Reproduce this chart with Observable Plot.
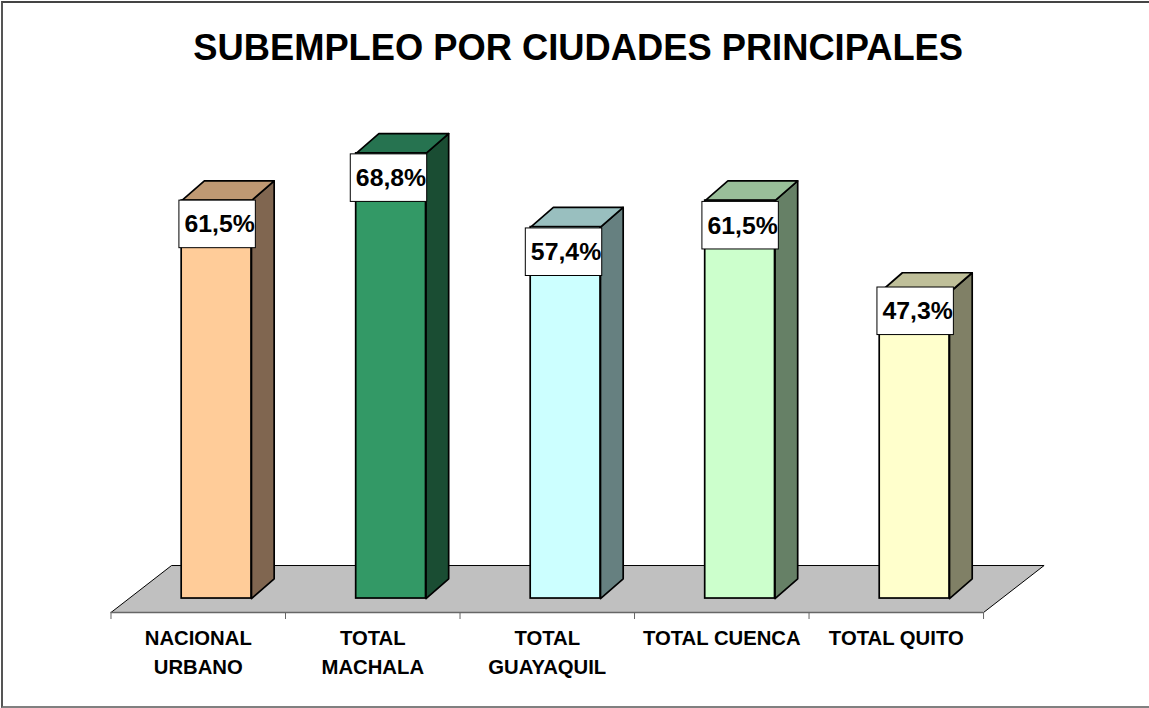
<!DOCTYPE html>
<html><head><meta charset="utf-8">
<script src="https://cdn.jsdelivr.net/npm/d3@7"></script>
<script src="https://cdn.jsdelivr.net/npm/@observablehq/plot@0.6"></script>
<style>
html,body{margin:0;padding:0;background:#fff;overflow:hidden}
#frame{position:relative;width:1149px;height:708px;box-sizing:border-box}
#frame::before{content:"";position:absolute;left:1px;top:1px;right:0;bottom:0;border-left:2px solid #555;border-top:2px solid #444;border-bottom:2px solid #808080}
svg{position:absolute;left:0;top:0;background:transparent!important}
</style></head><body><div id="frame"></div>
<script>
const categories = ["NACIONAL\nURBANO","TOTAL\nMACHALA","TOTAL\nGUAYAQUIL","TOTAL CUENCA","TOTAL QUITO"];
const values = [61.5,68.8,57.4,61.5,47.3];
const valueLabels = ["61,5%","68,8%","57,4%","61,5%","47,3%"];
const frontColors = ["#FFCC99","#339966","#CCFFFF","#CCFFCC","#FFFFCC"];
const sideColors = ["#806650","#1A4D33","#668080","#668066","#808066"];
const topColors = ["#BF9973","#267350","#99BFBF","#99BF99","#BFBF99"];
const title = "SUBEMPLEO POR CIUDADES PRINCIPALES";

// perspective geometry, in data units (x: category slots, y: percentage points)
const barStart = 0.405, barWidth = 0.4;
const depthX = 0.13, depthY = 3.05;
const floorFront = -2.16, floorBack = 5.1, floorShift = 0.347, slots = 5;
const boxWidth = 0.438, boxHeight = 7.35;
// hand placement of the value boxes relative to their bars
const boxNudgeX = [0.006,-0.012,-0.009,0.003,0.006];
const boxNudgeY = [0,-0.15,-0.2,-0.2,0.77];

const bars = values.map((v,i)=>({i,v,x1:i+barStart,x2:i+barStart+barWidth,label:valueLabels[i],front:frontColors[i],side:sideColors[i],top:topColors[i],cat:categories[i]}));
const sidePts = bars.flatMap(b=>[[b.x2,0],[b.x2+depthX,depthY],[b.x2+depthX,b.v+depthY],[b.x2,b.v]].map(([x,y])=>({x,y,id:b.i,fill:b.side})));
const topPts = bars.flatMap(b=>[[b.x1,b.v],[b.x1+depthX,b.v+depthY],[b.x2+depthX,b.v+depthY],[b.x2,b.v]].map(([x,y])=>({x,y,id:b.i,fill:b.top})));
const floorPts = [[0,floorFront],[slots,floorFront],[slots+floorShift,floorBack],[floorShift,floorBack]].map(([x,y])=>({x,y}));
const boxMid = b=>(b.x1+b.x2)/2+boxNudgeX[b.i];
const boxTop = b=>b.v+boxNudgeY[b.i];

const chart = Plot.plot({
  width:1149,height:708,marginLeft:0,marginRight:0,marginTop:0,marginBottom:96,
  style:{background:"transparent",fontFamily:"'Liberation Sans',Arial,sans-serif",overflow:"visible"},
  x:{domain:[-0.6332,5.951],axis:null},
  y:{domain:[floorFront,92.43],axis:null},
  color:{type:"identity"},
  marks:[
    Plot.line(floorPts,{x:"x",y:"y",fill:"#C0C0C0",stroke:"none",curve:"linear-closed"}),
    Plot.link([{a:0,b:floorFront,c:floorShift,d:floorBack},{a:slots,b:floorFront,c:slots+floorShift,d:floorBack},{a:floorShift,b:floorBack,c:slots+floorShift,d:floorBack}],{x1:"a",y1:"b",x2:"c",y2:"d",stroke:"#000",strokeWidth:1}),
    Plot.axisX({ticks:d3.range(slots+1),tickSize:7,tickFormat:()=>"",stroke:"#666",anchor:"bottom",label:null}),
    Plot.ruleY([floorFront],{x1:0,x2:slots,stroke:"#666",strokeWidth:1.5}),
    Plot.line(sidePts,{x:"x",y:"y",z:"id",fill:"fill",stroke:"#000",strokeWidth:1.7,curve:"linear-closed"}),
    Plot.line(topPts,{x:"x",y:"y",z:"id",fill:"fill",stroke:"#000",strokeWidth:1.7,curve:"linear-closed"}),
    Plot.rect(bars,{x1:"x1",x2:"x2",y1:0,y2:"v",fill:"front",stroke:"#000",strokeWidth:1.7}),
    Plot.rect(bars,{x1:b=>boxMid(b)-boxWidth/2,x2:b=>boxMid(b)+boxWidth/2,y1:b=>boxTop(b)-boxHeight,y2:boxTop,fill:"#fff",stroke:"#000",strokeWidth:1}),
    Plot.text(bars,{x:boxMid,y:b=>boxTop(b)-boxHeight/2,dx:2,text:"label",fontSize:24.8,fontWeight:"bold",fill:"#000"}),
    Plot.text(bars,{x:b=>b.i+0.5,y:floorFront,dy:12,text:"cat",lineAnchor:"top",lineHeight:1.43,fontSize:20.3,fontWeight:"bold",fill:"#000"}),
    Plot.text([title],{x:2.677,y:85.1,text:d=>d,fontSize:36.3,fontWeight:"bold",fill:"#000"})
  ]
});
document.getElementById("frame").append(chart);
</script></body></html>
